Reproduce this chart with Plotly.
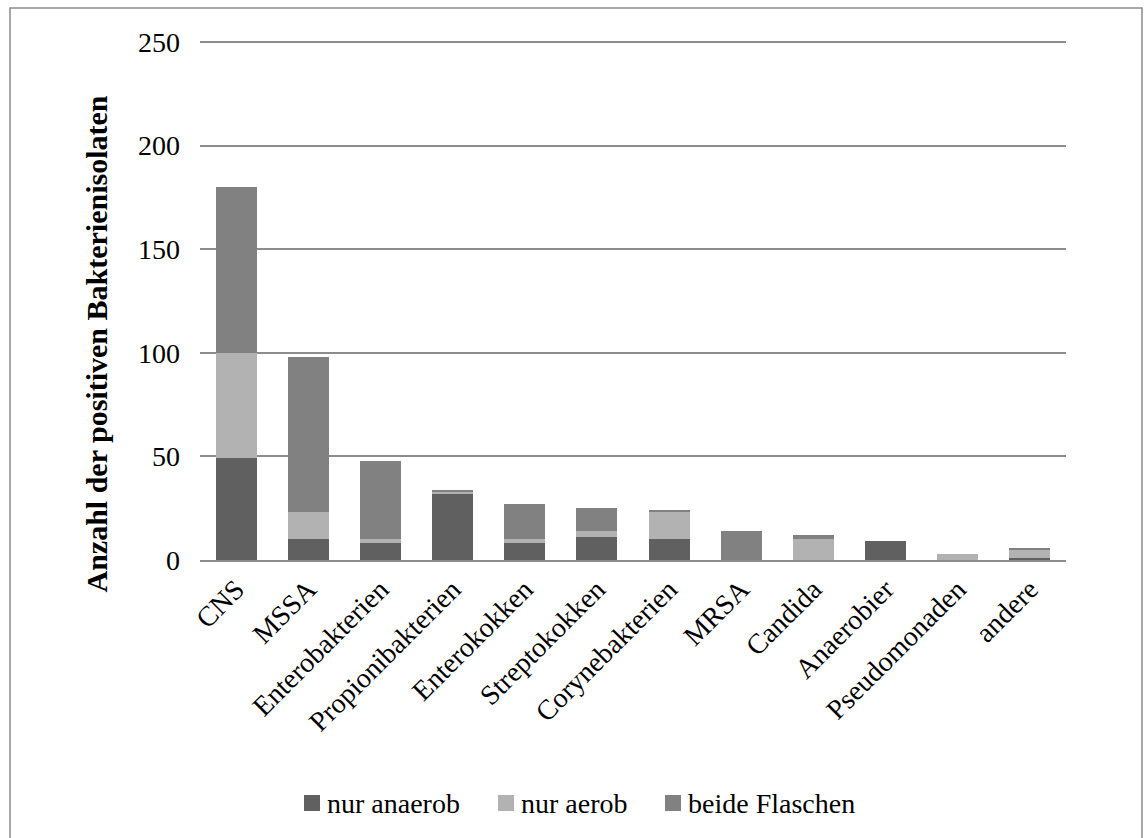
import plotly.graph_objects as go

# Erreger-Kategorien und Anzahl positiver Isolate je Flaschentyp
categories = ["CNS", "MSSA", "Enterobakterien", "Propionibakterien", "Enterokokken",
              "Streptokokken", "Corynebakterien", "MRSA", "Candida", "Anaerobier",
              "Pseudomonaden", "andere"]
nur_anaerob = [49, 10, 8, 32, 8, 11, 10, 0, 0, 9, 0, 1]
nur_aerob = [51, 13, 2, 1, 2, 3, 13, 0, 10, 0, 3, 4]
beide_flaschen = [80, 75, 38, 1, 17, 11, 1, 14, 2, 0, 0, 1]

series_names = ["nur anaerob", "nur aerob", "beide Flaschen"]
series_colors = ["#606060", "#b2b2b2", "#818181"]

y_ticks = [0, 50, 100, 150, 200, 250]

FONT = "Liberation Serif"

# Plotbereich in Pixeln (für die Umrechnung der Legendenposition)
W, H = 1144, 838
ML, MR, MT, MB = 200, 78, 40, 278
PW, PH = W - ML - MR, H - MT - MB


def px_x(px):
    return (px - ML) / PW


def px_y(py):
    return (H - MB - py) / PH


fig = go.Figure()
for name, vals, col in zip(series_names, [nur_anaerob, nur_aerob, beide_flaschen], series_colors):
    fig.add_trace(go.Bar(
        x=categories, y=vals, name=name,
        marker=dict(color=col, line=dict(width=0)),
    ))

# Rahmen um das gesamte Diagramm
fig.add_shape(type="rect", xref="paper", yref="paper",
              x0=px_x(10), x1=px_x(1142), y0=px_y(860), y1=px_y(8),
              line=dict(color="#8c8c8c", width=1.5), layer="below")

# Legende unter dem Diagramm: Farbquadrat + Beschriftung je Serie
legend_x = [304, 498, 665]
for lx, name, col in zip(legend_x, series_names, series_colors):
    fig.add_shape(type="rect", xref="paper", yref="paper",
                  x0=px_x(lx), x1=px_x(lx + 16), y0=px_y(811), y1=px_y(795),
                  fillcolor=col, line=dict(width=0))
    fig.add_annotation(text=name, xref="paper", yref="paper",
                       x=px_x(lx + 21), y=px_y(803), xanchor="left", yanchor="middle",
                       showarrow=False,
                       font=dict(family=FONT, size=28, color="#000000"))

# Achsentitel
fig.add_annotation(
    text="<b>Anzahl der positiven Bakterienisolaten</b>",
    xref="paper", yref="paper", x=px_x(78), y=px_y(344),
    textangle=-90, showarrow=False,
    font=dict(family=FONT, size=30, color="#000000"),
)

fig.update_layout(
    width=W, height=H,
    margin=dict(l=ML, r=MR, t=MT, b=MB),
    paper_bgcolor="white", plot_bgcolor="white",
    barmode="stack", bargap=0.43,
    font=dict(family=FONT, size=28, color="#000000"),
    showlegend=False,
)
fig.update_xaxes(
    tickangle=-45, showgrid=False,
    showline=True, linecolor="#8c8c8c", linewidth=1.5,
    ticks="", tickfont=dict(family=FONT, size=28),
)
fig.update_yaxes(
    range=[0, 251], tickvals=y_ticks,
    showgrid=True, gridcolor="#8c8c8c", gridwidth=1.5,
    zeroline=False, showline=False, ticks="",
    ticklabelstandoff=19,
    tickfont=dict(family=FONT, size=28),
)

fig.write_html("out.html")
